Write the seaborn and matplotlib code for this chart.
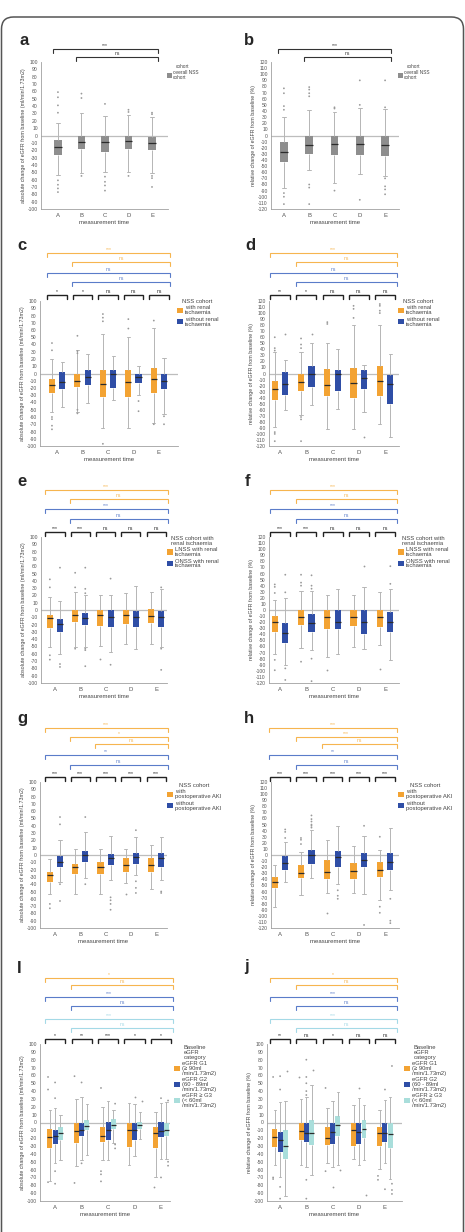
import numpy as np
import pandas as pd
import matplotlib
matplotlib.use("Agg")
import matplotlib.pyplot as plt
import matplotlib.transforms as mtransforms
from matplotlib.patches import Patch, FancyBboxPatch
import seaborn as sns

# ---- data: five-number summaries [low whisker, q1, median, q3, high whisker] per time point ----
times = ["A", "B", "C", "D", "E"]

a_overall = [[-54, -26, -15, -6, 17], [-51, -18, -9.5, -0.5, 31], [-50, -23, -9, -0.5, 27],
             [-50, -19, -7.7, 0, 28], [-51, -20, -10, -1.5, 25]]
a_overall_out = [[59, 52, 41, 31, -61, -67, -72, -77], [57, 51, -55], [43, -56, -63, -68, -75],
                 [35, 32, -55], [31, 29, -55, -58, -70]]

b_overall = [[-86, -43, -27, -11, 30], [-56, -30, -15, 0, 42], [-77, -32, -14, 0, 38],
             [-63, -32, -13.6, 0, 45], [-66, -33, -16, -1.6, 43]]
b_overall_out = [[77, 69, 48, 42, -94, -100, -112], [79, 75, 69, 64, -80, -85, -112], [46, 44, -90],
                 [90, 50, -105], [90, 46, -70, -83, -88, -96]]

c_with = [[-53, -27.5, -16, -7.8, 20], [-53, -19, -10, -1, 32], [-75, -33, -14, 4.6, 55],
          [-75, -32, -11.5, 4.6, 51], [-68, -27, -8, 8, 63]]
c_with_out = [[42, 32, -60, -63, -72, -77], [52, 31, 28, -50, -55], [82, 77, 72, -97], [75, 62], [73, -70]]
c_without = [[-46, -22, -11.5, 2.3, 16], [-40, -16, -4.6, 5.5, 27], [-36, -20.6, 0, 5.5, 24],
             [-30, -13, -5.5, -1, 11], [-56, -21.6, -10, -1, 21]]
c_without_out = [[], [], [], [-38, -52], [-59, -70]]

d_with = [[-88, -44, -26, -12, 36], [-69, -29, -14, 0, 36], [-92, -37, -19, 8, 51],
          [-92, -40, -15, 9, 80], [-83, -37, -12, 12.6, 80]]
d_with_out = [[60, 42, 38, -97, -100, -112], [58, 48, 42, -72, -76, -112], [85, 82],
              [112, 107, 92], [115, 112, 104, 100]]
d_without = [[-60, -36, -18, 3, 22], [-52, -23, -1, 12, 50], [-59, -29, -1, 6.6, 40],
             [-63, -25, -8, 6.6, 14], [-105, -51, -18, -1.7, 32]]
d_without_out = [[65], [66], [], [-105], []]

e_lnss = [[-50, -25, -11.5, -7, 18], [-50, -17, -7, 0, 25], [-49, -22, -7, 0, 20],
          [-46, -19, -7, 0, 23], [-47, -18, -8, 1, 24]]
e_lnss_out = [[42, 31, -62, -68], [51, 31, -53], [-67], [], []]
e_onss = [[-60, -30, -19, -13, 13], [-50, -20.6, -10.5, -3.7, 20], [-57, -23, -10, 0, 20],
          [-53, -23, -10, -1, 33], [-50, -23, -9, -1, 29]]
e_onss_out = [[58, -74, -78], [58, 29, 23, -53, -55, -77], [43, -75], [], [31, -53, -82]]

f_lnss = [[-72, -36, -20, -10, 17], [-63, -25, -11.5, 0, 32], [-77, -31, -11.5, 0, 24],
          [-60, -26, -11.5, 0, 24], [-58, -28, -11.5, 0, 30]]
f_lnss_out = [[42, 38, 28, -82, -99], [58, 45, 40, -85], [-99], [], [-97]]
f_onss = [[-90, -54, -38, -22, 19], [-66, -36, -22, -7, 32], [-72, -32, -19, 0, 35],
          [-64, -39, -20, 0, 38], [-83, -36, -20, -3, 35]]
f_onss_out = [[58, 29, -96, -115], [57, 40, 35, -80, -117], [], [73], [72, 43]]

g_with = [[-53, -37, -28, -23, -5], [-53, -26, -16, -13, 8], [-53, -26, -16, -9, 8],
          [-39, -23, -14, -4.6, 8], [-47, -23, -14, -4.6, 14]]
g_with_out = [[-67, -73], [], [], [-53], []]
g_without = [[-37, -16, -9, -1.4, 21], [-32, -9, 0, 6, 32], [-34, -14, -4.6, 1.4, 26],
             [-27, -13, -2.3, 2.3, 25], [-34, -16, -4.6, 2.3, 25]]
g_without_out = [[52, 42, -40, -63], [52, -40], [-58, -62, -67, -75], [34, -36, -45, -52], [-50, -52]]

h_with = [[-85, -55, -44, -36, -16], [-66, -38.5, -29, -16.5, 5.5], [-63, -40, -27.5, -9, 25],
          [-63, -40, -26, -13, 15], [-74, -36, -25, -11, 9]]
h_with_out = [[], [28, 25, 18], [-96], [], [30, -85, -95]]
h_without = [[-44, -24, -13, -1.7, 21], [-38.5, -15, 0, 9, 41], [-48, -19, -3, 7, 47],
             [-64, -20, -8, 3, 31], [-58, -25, -11, 4, 44]]
h_without_out = [[42, 38, 28], [65, 59, 55, 50, 48, 45], [-58, -67, -72], [48, -115], [-72, -108, -112]]

i_g1 = [[-74, -33, -18, -7.7, 16], [-55, -25.5, -11, 0, 30], [-48, -25, -17.5, -5.5, 20],
        [-54, -31, -10, 0, 25], [-69, -32, -13, -5.5, 14]]
i_g1_out = [[58, 42, -76], [59, -77], [44, -62, -66, -75], [], [-82]]
i_g2 = [[-52, -28, -17.5, -10, 19], [-48, -17.5, -10, 0, 32], [-48, -22, -10, 1, 27],
        [-43, -22, -10, 0, 23], [-46, -19, -10.6, 1, 25]]
i_g2_out = [[51, 31, -62, -78], [51, -52], [], [33], [31, -70]]
i_g3 = [[-48, -22, -13, -5.5, 9], [-42, -10, -4, 3, 24], [-26, -8.5, -3.4, 4, 16],
        [-21, -8, -3.4, 1, 14], [-46, -17, -9, 0, 26]]
i_g3_out = [[], [], [24, -28, -33], [28], [28, -50, -55]]

j_g1 = [[-54, -31, -18, -8.5, 16], [-54, -22.5, -10.6, 0, 30], [-52, -29, -20, -6, 18],
        [-46, -30, -10, 0, 22], [-59, -30, -14, -5.5, 16]]
j_g1_out = [[58, -70, -72], [58], [44, -62], [], [-68, -73]]
j_g2 = [[-69, -37, -22, -12, 26], [-57, -25, -14, -1, 33], [-57, -27, -12, 0, 28],
        [-54, -27, -12, 0, 31], [-52, -25, -14, -1, 29]]
j_g2_out = [[59, 42, -82, -97], [80, 58, 50, 40, 35, -73, -97], [-82], [44], [42, -85]]
j_g3 = [[-94, -47, -30, -10, 28], [-67, -29, -14, 3, 48], [-54, -17, -3.4, 8, 39],
        [-48, -20, -7.7, 3, 22], [-72, -33, -15, 0, 33]]
j_g3_out = [[65], [67], [-61], [-92], [72, -78, -86, -91]]

# significance labels: long brackets (colour key, first time index, label) and per-time labels
ab_long = [("k", 0, "***"), ("k", 1, "ns")]
c_long = [("o", 0, "***"), ("o", 1, "ns"), ("b", 0, "ns"), ("b", 1, "ns")]
c_pair = ["*", "*", "ns", "ns", "ns"]
d_long = [("o", 0, "***"), ("o", 1, "ns"), ("b", 0, "ns"), ("b", 1, "ns")]
d_pair = ["**", "*", "ns", "ns", "ns"]
ef_long = [("o", 0, "***"), ("o", 1, "ns"), ("b", 0, "***"), ("b", 1, "ns")]
ef_pair = ["***", "***", "ns", "ns", "ns"]
g_long = [("o", 0, "***"), ("o", 1, "*"), ("o", 2, "ns"), ("b", 0, "**"), ("b", 1, "ns")]
h_long = [("o", 0, "***"), ("o", 1, "***"), ("o", 2, "ns"), ("b", 0, "**"), ("b", 1, "ns")]
gh_pair = ["***", "***", "***", "***", "***"]
ij_long = [("o", 0, "*"), ("o", 1, "ns"), ("b", 0, "***"), ("b", 1, "ns"), ("c", 0, "***"), ("c", 1, "ns")]
i_pair = ["*", "**", "***", "*", "*"]
j_pair = ["**", "ns", "*", "ns", "ns"]

abs_label = "absolute change of eGFR from baseline (ml/min/1.73m2)"
rel_label = "relative change of eGFR from baseline (%)"

GRAY, ORANGE, BLUE, LIGHT = "#8e8e8e", "#f3a333", "#2f4ea6", "#a9dedb"
BR = {"k": "#333333", "o": "#f6b54f", "b": "#5a7cc9", "c": "#a4d9e6"}

W, H = 465, 1232
sns.set_style("white")
plt.rcParams["font.family"] = ["Liberation Sans", "DejaVu Sans"]
plt.rcParams["axes.unicode_minus"] = False
fig = plt.figure(figsize=(W / 100, H / 100), dpi=100)


def long_frame(groups, boxes):
    rows = []
    for g, per_time in zip(groups, boxes):
        for t, vals in zip(times, per_time):
            for v in vals:
                rows.append((t, g, v))
    return pd.DataFrame(rows, columns=["time", "group", "value"])


def draw_panel(box, xlim, letter, letter_xy, groups, colors, stats, outs, yr, ylabel,
               leg_title, leg_xy, leg_fs, long_br, long_off, pair, pair_off,
               width, gap, long_pad=0.4, long_end=4.45):
    l, t, r, b = box
    hpx = b - t
    ax = fig.add_axes([l / W, 1 - b / H, (r - l) / W, hpx / H])
    df = long_frame(groups, stats)
    fl = long_frame(groups, outs)
    ax.axhline(0, color="#bdbdbd", lw=0.9, zorder=1)
    sns.boxplot(data=df, x="time", y="value", hue="group", order=times, hue_order=groups,
                palette=dict(zip(groups, colors)), saturation=1, whis=(0, 100),
                width=width, gap=gap, showfliers=False, legend=False, ax=ax,
                boxprops={"linewidth": 0},
                medianprops={"color": "#2b2b2b", "linewidth": 0.9},
                whiskerprops={"color": "#b5b5b5", "linewidth": 0.7},
                capprops={"color": "#b5b5b5", "linewidth": 0.7})
    sns.stripplot(data=fl, x="time", y="value", hue="group", order=times, hue_order=groups,
                  palette={g: "#9a9a9a" for g in groups}, dodge=True, jitter=False,
                  size=1.3, linewidth=0, legend=False, ax=ax)
    ax.set_xlim(*xlim)
    ax.set_ylim(yr, -yr)
    ax.set_ylim(-yr, yr)
    ax.set_yticks(np.arange(-yr, yr + 1, 10))
    ax.tick_params(axis="y", labelsize=3.6, length=1.5, width=0.4, pad=0.8, colors="#555555")
    ax.tick_params(axis="x", labelsize=4.3, length=1.5, width=0.4, pad=1.5, colors="#555555")
    for s in ["top", "right"]:
        ax.spines[s].set_visible(False)
    for s in ["left", "bottom"]:
        ax.spines[s].set_color("#a0a0a0")
        ax.spines[s].set_linewidth(0.6)
    ax.set_xlabel("measurement time", fontsize=4.3, color="#444444", labelpad=1.5)
    ax.set_ylabel(ylabel, fontsize=3.8, color="#444444", labelpad=1.5)

    trans = mtransforms.blended_transform_factory(ax.transData, ax.transAxes)

    def bracket(x0, x1, off, color, text, lw):
        y = 1 + off / hpx
        y2 = 1 + (off - 4) / hpx
        ax.plot([x0, x0, x1, x1], [y2, y, y, y2], color=color, lw=lw, transform=trans,
                clip_on=False, solid_joinstyle="miter")
        ax.text((x0 + x1) / 2, y + 0.8 / hpx, text, fontsize=3.6, color=color,
                ha="center", va="bottom", transform=trans)

    for (ck, start, text), off in zip(long_br, long_off):
        bracket(start - long_pad, long_end, off, BR[ck], text, 0.8)
    if pair:
        for k, text in enumerate(pair):
            bracket(k - 0.38, k + 0.38, pair_off, "#222222", text, 1.0)

    handles = [Patch(facecolor=c, edgecolor="none") for c in colors]
    lx, ly = leg_xy
    leg = ax.legend(handles, groups, title=leg_title, loc="upper left",
                    bbox_to_anchor=((lx - l) / (r - l), 1 - (ly - t) / hpx), frameon=False,
                    fontsize=leg_fs, title_fontsize=leg_fs, handlelength=1.1, handleheight=1.1,
                    handletextpad=0.2, labelspacing=0.25, borderaxespad=0, borderpad=0)
    for txt in leg.get_texts() + [leg.get_title()]:
        txt.set_color("#444444")
        txt.set_linespacing(0.95)

    fig.text(letter_xy[0] / W, 1 - letter_xy[1] / H, letter, fontsize=12,
             fontweight="bold", va="baseline", ha="left")
    return ax


ov = ["overall NSS\ncohort"]
isch = ["with renal\nischaemia", "without renal\nischaemia"]
lo = ["LNSS with renal\nischaemia", "ONSS with renal\nischaemia"]
aki = ["with\npostoperative AKI", "without\npostoperative AKI"]
egfr = ["eGFR G1\n(\u2265 90ml\n/min/1.73m2)", "eGFR G2\n(60 - 89ml\n/min/1.73m2)",
        "eGFR \u2265 G3\n(< 60ml\n/min/1.73m2)"]

draw_panel((41, 62, 168, 209), (-0.72, 4.68), "a", (19, 45), ov, [GRAY], [a_overall], [a_overall_out],
           100, abs_label, "cohort", (167, 64), 3.4, ab_long, [13, 5], None, 0, 0.8, 0.62,
           long_pad=0.22, long_end=4.25)
draw_panel((271, 62, 399, 209), (-0.51, 4.55), "b", (244, 45), ov, [GRAY], [b_overall], [b_overall_out],
           120, rel_label, "cohort", (398, 64), 3.4, ab_long, [13, 5], None, 0, 0.8, 0.62,
           long_pad=0.22, long_end=4.25)
draw_panel((40, 301, 178, 446), (-0.67, 4.75), "c", (17, 250), isch, [ORANGE, BLUE],
           [c_with, c_without], [c_with_out, c_without_out], 100, abs_label, "NSS cohort",
           (177, 299), 4.2, c_long, [48, 39, 28, 19], c_pair, 6, 0.8, 0.4)
draw_panel((269, 301, 399, 446), (-0.42, 4.53), "d", (245, 250), isch, [ORANGE, BLUE],
           [d_with, d_without], [d_with_out, d_without_out], 120, rel_label, "NSS cohort",
           (398, 299), 4.2, d_long, [48, 39, 28, 19], d_pair, 6, 0.8, 0.4)
draw_panel((41, 537, 167, 683), (-0.55, 4.43), "e", (17, 486), lo, [ORANGE, BLUE],
           [e_lnss, e_onss], [e_lnss_out, e_onss_out], 100, abs_label,
           "NSS cohort with\nrenal ischaemia", (167, 536), 4.2, ef_long, [47, 38, 28, 18], ef_pair, 5,
           0.8, 0.4)
draw_panel((269, 537, 399, 683), (-0.42, 4.53), "f", (245, 486), lo, [ORANGE, BLUE],
           [f_lnss, f_onss], [f_lnss_out, f_onss_out], 120, rel_label,
           "NSS cohort with\nrenal ischaemia", (398, 536), 4.2, ef_long, [47, 38, 28, 18], ef_pair, 5,
           0.8, 0.4)
draw_panel((40, 782, 167, 928), (-0.59, 4.43), "g", (17, 723), aki, [ORANGE, BLUE],
           [g_with, g_without], [g_with_out, g_without_out], 100, abs_label, "NSS cohort",
           (167, 783), 4.2, g_long, [54, 45, 38, 27, 17], gh_pair, 5, 0.8, 0.4)
draw_panel((271, 782, 399, 928), (-0.34, 4.53), "h", (244, 723), aki, [ORANGE, BLUE],
           [h_with, h_without], [h_with_out, h_without_out], 120, rel_label, "NSS cohort",
           (398, 783), 4.2, h_long, [54, 45, 38, 27, 17], gh_pair, 5, 0.8, 0.4)
draw_panel((40, 1044, 170, 1201), (-0.57, 4.34), "I", (17, 973), egfr, [ORANGE, BLUE, LIGHT],
           [i_g1, i_g2, i_g3], [i_g1_out, i_g2_out, i_g3_out], 100, abs_label,
           "Baseline\neGFR\ncategory", (174, 1045), 4.2, ij_long, [66, 59, 47, 38, 25, 16], i_pair, 5,
           0.6, 0.05)
draw_panel((267, 1044, 402, 1201), (-0.5, 4.65), "j", (244, 971), egfr, [ORANGE, BLUE, LIGHT],
           [j_g1, j_g2, j_g3], [j_g1_out, j_g2_out, j_g3_out], 100, rel_label,
           "Baseline\neGFR\ncategory", (404, 1045), 4.2, ij_long, [66, 59, 47, 38, 25, 16], j_pair, 5,
           0.6, 0.05)

# rounded outer frame of the figure
frame = FancyBboxPatch((1.5, -60), 462, 1232 - 17 + 60, boxstyle="round,pad=0,rounding_size=12",
                       transform=mtransforms.IdentityTransform(), facecolor="none",
                       edgecolor="#555555", linewidth=1.1)
fig.add_artist(frame)

fig.savefig("out.png", dpi=100)
